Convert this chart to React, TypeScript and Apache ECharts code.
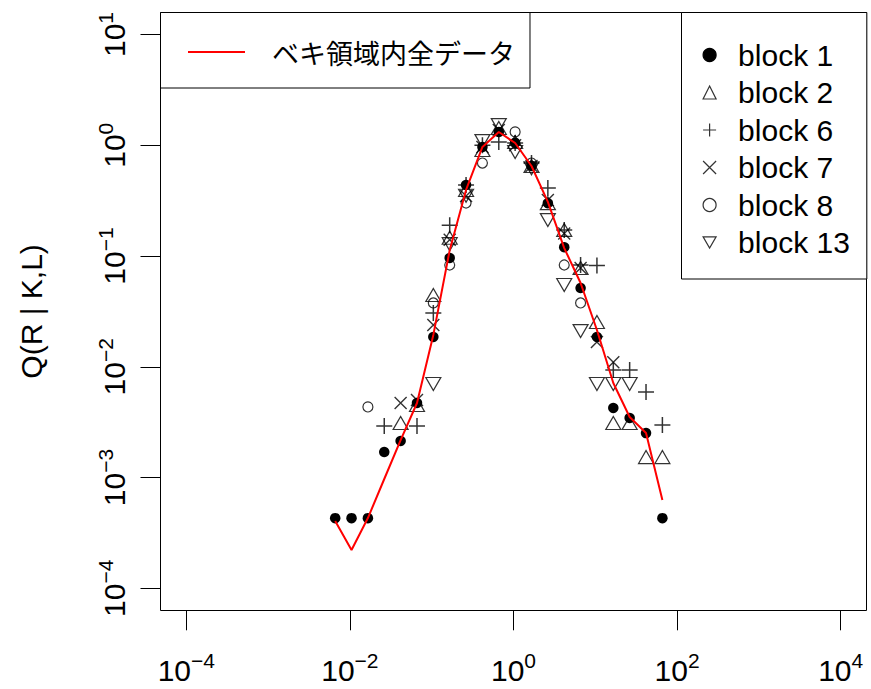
import React, { useEffect, useRef } from 'react';
import * as echarts from 'echarts';

// log-binned x positions (bin centres)
const X_BINS = [0.00661, 0.01047, 0.0166, 0.0263, 0.0417, 0.0661, 0.1047, 0.166, 0.263, 0.417, 0.661,
  1.047, 1.66, 2.63, 4.17, 6.61, 10.47, 16.6, 26.3, 41.7, 66.1];

// Q(R | K,L) per block (null = no point)
const BLOCK_1 = [4.3e-4, 4.3e-4, 4.3e-4, 1.7e-3, 2.14e-3, 4.71e-3, 0.0186, 0.096, 0.438, 0.964, 1.32,
  1.05, 0.65, 0.30, 0.12, 0.0514, 0.0186, 4.25e-3, 3.45e-3, 2.52e-3, 4.3e-4];
const BLOCK_2 = [null, null, null, null, 3.11e-3, 4.52e-3, 0.0445, 0.146, 0.395, 0.906, 1.43,
  1.07, 0.65, 0.30, 0.172, 0.078, 0.0254, 3.11e-3, 3.11e-3, 1.53e-3, 1.53e-3];
const BLOCK_6 = [null, null, null, 2.92e-3, null, 2.92e-3, 0.0306, 0.19, 0.438, 1.0, 1.07,
  1.05, 0.69, 0.411, 0.172, 0.083, 0.082, 9.35e-3, 9.35e-3, 5.93e-3, 2.98e-3];
const BLOCK_7 = [null, null, null, null, 4.71e-3, 5.01e-3, 0.0238, 0.14, 0.348, 0.964, 1.37,
  1.0, 0.65, 0.32, 0.16, 0.078, 0.0167, 0.011, null, null, null];
const BLOCK_8 = [null, null, 4.34e-3, null, null, null, 0.0377, 0.083, 0.301, 0.691, null,
  1.32, 0.691, null, 0.083, 0.0377, null, null, null, null, null];
const BLOCK_13 = [null, null, null, null, null, null, 7.0e-3, 0.128, 0.35, 1.09, 1.52,
  0.869, 0.62, 0.211, 0.0547, 0.021, 7.0e-3, 7.0e-3, 7.0e-3, null, null];

// red line: all data in the power-law region
const LINE_ALL = [4.05e-4, 2.22e-4, 4.31e-4, 9.7e-4, 2.18e-3, 4.71e-3, 0.0194, 0.113, 0.395, 0.965, 1.317,
  1.048, 0.65, 0.308, 0.118, 0.0571, 0.0215, 7.13e-3, 3.52e-3, 2.52e-3, 6.26e-4];

const X_TICKS_LOG_BASE = 100;
const Y_TICKS_LOG_BASE = 10;
const LINE_NAME = 'ベキ領域内全データ';
const BLOCK_NAMES = ['block 1', 'block 2', 'block 6', 'block 7', 'block 8', 'block 13'];

const FONT = '"Liberation Sans", Arial, Helvetica, sans-serif';

function pairs(ys: (number | null)[]) {
  const out: number[][] = [];
  ys.forEach((y, i) => {
    if (y != null) out.push([X_BINS[i], y]);
  });
  return out;
}

function powLabel(v: number) {
  const e = Math.round(Math.log10(v));
  const es = e < 0 ? '\u2212' + String(-e) : String(e);
  return '{b|10}{e|' + es + '}';
}

const rich = {
  b: { fontSize: 30, lineHeight: 40, fontFamily: FONT, color: '#000' },
  e: { fontSize: 21, lineHeight: 21, verticalAlign: 'top', fontFamily: FONT, color: '#000' },
};

const openStyle = (w: number) => ({ color: 'transparent', borderColor: '#000', borderWidth: w });

export default function App() {
  const ref = useRef<HTMLDivElement>(null);
  useEffect(() => {
    if (!ref.current) return;
    const chart = echarts.init(ref.current, null, { renderer: 'svg' });
    const blockData = [BLOCK_1, BLOCK_2, BLOCK_6, BLOCK_7, BLOCK_8, BLOCK_13];
    const blockStyles: any[] = [
      { symbol: 'circle', symbolSize: 10.5, itemStyle: { color: '#000', borderColor: '#000', borderWidth: 0, opacity: 1 } },
      { symbol: 'triangle', symbolSize: [15, 13], itemStyle: openStyle(1.2) },
      { symbol: 'path://M0,5L10,5M5,0L5,10', symbolSize: 16, itemStyle: openStyle(1.5) },
      { symbol: 'path://M0,0L10,10M10,0L0,10', symbolSize: 12, itemStyle: openStyle(1.4) },
      { symbol: 'circle', symbolSize: 10, itemStyle: openStyle(1.2) },
      { symbol: 'path://M0,0L10,0L5,8.66Z', symbolSize: [15, 13], itemStyle: openStyle(1.2) },
    ];
    const series: any[] = BLOCK_NAMES.map((name, k) => ({
      name,
      type: 'scatter',
      xAxisIndex: 1,
      yAxisIndex: 1,
      data: pairs(blockData[k]),
      ...blockStyles[k],
      z: 2,
    }));
    series.push({
      name: LINE_NAME,
      type: 'line',
      xAxisIndex: 1,
      yAxisIndex: 1,
      data: pairs(LINE_ALL),
      symbol: 'none',
      showSymbol: false,
      lineStyle: { color: '#ff0000', width: 2 },
      itemStyle: { color: '#ff0000' },
      z: 3,
    });

    chart.setOption({
      animation: false,
      backgroundColor: '#fff',
      textStyle: { fontFamily: FONT, color: '#000' },
      grid: [
        { left: 160.5, right: 4.5, top: 12.5, bottom: 78.5, show: true, borderColor: '#000', borderWidth: 1, backgroundColor: 'transparent' },
        { left: 186.3, right: 30.3, top: 34.5, bottom: 100.7 },
      ],
      xAxis: [
        { gridIndex: 0, type: 'value', show: false, min: 0, max: 1 },
        {
          gridIndex: 1, type: 'log', logBase: X_TICKS_LOG_BASE, min: 1e-4, max: 1e4,
          position: 'bottom', offset: 22,
          axisLine: { show: false },
          axisTick: { show: true, inside: false, length: 20, lineStyle: { color: '#000', width: 1 } },
          axisLabel: { formatter: powLabel, rich, margin: 40, showMinLabel: true, showMaxLabel: true },
          splitLine: { show: false },
          minorTick: { show: false },
        },
      ],
      yAxis: [
        { gridIndex: 0, type: 'value', show: false, min: 0, max: 1 },
        {
          gridIndex: 1, type: 'log', logBase: Y_TICKS_LOG_BASE, min: 1e-4, max: 10,
          position: 'left', offset: 25.8,
          axisLine: { show: false },
          axisTick: { show: true, inside: false, length: 20, lineStyle: { color: '#000', width: 1 } },
          axisLabel: { formatter: powLabel, rich, margin: 26, rotate: 90, showMinLabel: true, showMaxLabel: true },
          splitLine: { show: false },
          minorTick: { show: false },
          name: 'Q(R | K,L)',
          nameLocation: 'middle',
          nameGap: 114,
          nameTextStyle: { fontSize: 30, fontFamily: FONT, color: '#000' },
        },
      ],
      legend: [
        {
          data: [{ name: LINE_NAME, icon: 'rect' }],
          left: 160.5, top: 12.5,
          orient: 'horizontal',
          padding: [24.5, 15, 21, 27.5],
          itemWidth: 57, itemHeight: 2,
          borderColor: '#000', borderWidth: 1, borderRadius: 0,
          backgroundColor: '#fff',
          selectedMode: false,
          itemStyle: { color: '#ff0000', borderWidth: 0 },
          textStyle: { fontSize: 27, lineHeight: 30, fontFamily: '"Noto Sans CJK JP", sans-serif', color: '#000', padding: [0, 0, 0, 22] },
        },
        {
          data: BLOCK_NAMES,
          left: 681.5, top: 12.5,
          orient: 'vertical',
          padding: [27.5, 17, 21.5, 21],
          itemWidth: 13, itemHeight: 13, itemGap: 7.5,
          borderColor: '#000', borderWidth: 1, borderRadius: 0,
          backgroundColor: '#fff',
          selectedMode: false,
          itemStyle: { borderWidth: 1.2 },
          textStyle: { fontSize: 30, lineHeight: 30, fontFamily: FONT, color: '#000', padding: [0, 0, 0, 17] },
        },
      ],
      series,
    });
    return () => chart.dispose();
  }, []);
  return <div ref={ref} style={{ position: 'absolute', left: 0, top: 0, width: 871, height: 689, background: '#fff' }} />;
}
